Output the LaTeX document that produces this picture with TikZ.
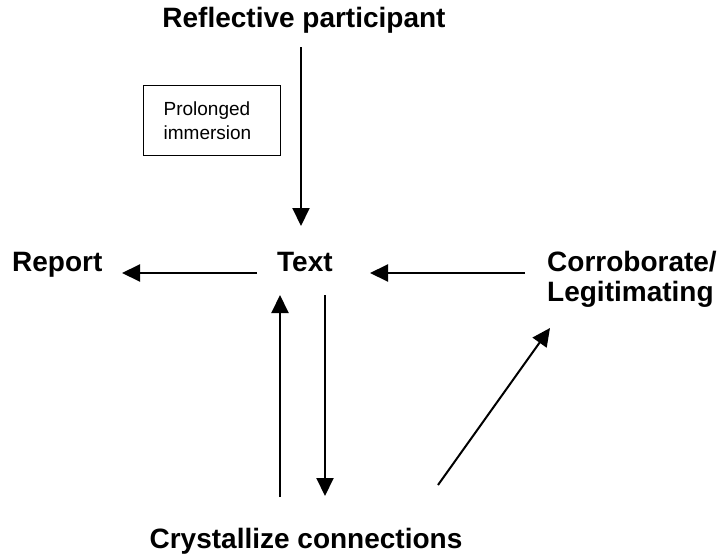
\documentclass[tikz,border=0pt]{standalone}
\usepackage{fontspec}
\setmainfont{Liberation Sans}
\usetikzlibrary{arrows.meta}
\begin{document}
\begin{tikzpicture}[x=1pt,y=-1pt,
  lbl/.style={font=\fontsize{28}{32}\selectfont\bfseries, inner sep=0pt, anchor=base west},
  arr/.style={line width=2pt, -{Triangle[length=18pt,width=17pt]}},
  notebox/.style={draw, line width=1.3pt, minimum width=137pt, minimum height=70pt,
    text width=97pt, align=left, inner xsep=20pt, inner ysep=0pt, anchor=north west,
    font=\fontsize{19}{24}\selectfont}]
\useasboundingbox[fill=white] (0,0) rectangle (721,557);

% text nodes
\node[lbl, anchor=base] (refl) at (304,27) {Reflective participant};
\node[lbl] (rep) at (12,271) {Report};
\node[lbl] (txt) at (277,271) {Text};
\node[lbl] (cor) at (547,271) {Corroborate/};
\node[lbl] (leg) at (547,301) {Legitimating};
\node[lbl, anchor=base] (cry) at (306,548) {Crystallize connections};
\node[notebox] (box) at (143,85) {Prolonged\\immersion};

% connector ends
\coordinate (reflOut) at (301,47);
\coordinate (txtIn) at (301,226);
\coordinate (txtL) at (257,273);
\coordinate (repIn) at (122,273);
\coordinate (corOut) at (525,273);
\coordinate (txtR) at (370,273);
\coordinate (cryUp) at (280,497);
\coordinate (txtB1) at (280,295);
\coordinate (txtB2) at (325,295);
\coordinate (cryIn) at (325,496);
\coordinate (cryR) at (438,485);
\coordinate (corIn) at (550,328);

% connectors
\draw[arr] (reflOut) -- (txtIn);
\draw[arr] (txtL) -- (repIn);
\draw[arr] (corOut) -- (txtR);
\draw[arr] (cryUp) -- (txtB1);
\draw[arr] (txtB2) -- (cryIn);
\draw[arr] (cryR) -- (corIn);
\end{tikzpicture}
\end{document}
